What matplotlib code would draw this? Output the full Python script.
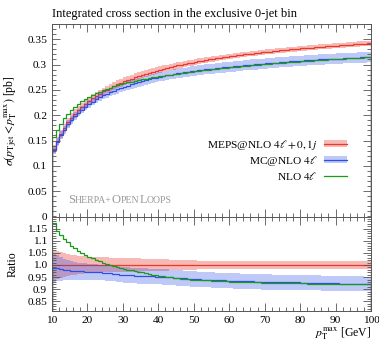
import numpy as np
import matplotlib
matplotlib.use("Agg")
import matplotlib.pyplot as plt
from matplotlib.patches import Patch
from matplotlib.lines import Line2D
from matplotlib.offsetbox import TextArea, HPacker, AnchoredOffsetbox
from matplotlib.ticker import MultipleLocator, FixedLocator, FuncFormatter

# ---------------- data ----------------
bin_edges = list(range(10, 101))  # p_T^max bins [GeV]

meps_xs = [0.1330, 0.1490, 0.1630, 0.1750, 0.1860, 0.1953, 0.2031, 0.2103, 0.2168, 0.2228,
           0.2283, 0.2334, 0.2382, 0.2426, 0.2468, 0.2507, 0.2543, 0.2578, 0.2610, 0.2641,
           0.2670, 0.2698, 0.2724, 0.2750, 0.2774, 0.2797, 0.2818, 0.2840, 0.2860, 0.2879,
           0.2898, 0.2916, 0.2933, 0.2949, 0.2965, 0.2981, 0.2996, 0.3010, 0.3024, 0.3038,
           0.3051, 0.3064, 0.3076, 0.3088, 0.3100, 0.3111, 0.3122, 0.3132, 0.3143, 0.3153,
           0.3163, 0.3172, 0.3182, 0.3191, 0.3200, 0.3208, 0.3217, 0.3225, 0.3233, 0.3241,
           0.3249, 0.3256, 0.3264, 0.3271, 0.3278, 0.3285, 0.3292, 0.3299, 0.3305, 0.3311,
           0.3318, 0.3324, 0.3330, 0.3336, 0.3342, 0.3347, 0.3353, 0.3358, 0.3364, 0.3369,
           0.3374, 0.3379, 0.3384, 0.3389, 0.3394, 0.3399, 0.3404, 0.3408, 0.3413, 0.3417]

meps_relerr = [0.060, 0.056, 0.052, 0.048, 0.045, 0.042, 0.040, 0.038, 0.036, 0.035,
               0.034, 0.033, 0.032, 0.032, 0.031, 0.031, 0.030, 0.030, 0.030, 0.029,
               0.029, 0.028, 0.028, 0.027, 0.027, 0.026, 0.026, 0.025, 0.025, 0.024,
               0.024, 0.023, 0.023, 0.022, 0.022, 0.021, 0.021, 0.020, 0.020, 0.019,
               0.019, 0.018, 0.018, 0.018, 0.017, 0.017, 0.017, 0.016, 0.016, 0.016,
               0.015, 0.015, 0.015, 0.015, 0.015, 0.015, 0.015, 0.015, 0.015, 0.015,
               0.015, 0.015, 0.015, 0.015, 0.015, 0.015, 0.015, 0.015, 0.015, 0.015,
               0.015, 0.015, 0.015, 0.015, 0.015, 0.015, 0.015, 0.015, 0.015, 0.015,
               0.015, 0.015, 0.015, 0.015, 0.015, 0.015, 0.015, 0.015, 0.015, 0.015]

mcnlo_ratio = [0.988, 0.986, 0.984, 0.981, 0.979, 0.977, 0.976, 0.975, 0.974, 0.973,
               0.972, 0.971, 0.970, 0.969, 0.968, 0.967, 0.966, 0.964, 0.962, 0.960,
               0.959, 0.958, 0.957, 0.956, 0.955, 0.955, 0.954, 0.953, 0.953, 0.952,
               0.951, 0.950, 0.950, 0.949, 0.948, 0.947, 0.946, 0.945, 0.944, 0.943,
               0.942, 0.941, 0.940, 0.940, 0.939, 0.938, 0.937, 0.937, 0.936, 0.935,
               0.935, 0.934, 0.934, 0.933, 0.933, 0.932, 0.932, 0.931, 0.931, 0.930,
               0.930, 0.930, 0.929, 0.929, 0.929, 0.929, 0.928, 0.928, 0.928, 0.928,
               0.927, 0.927, 0.927, 0.926, 0.926, 0.926, 0.925, 0.925, 0.924, 0.924,
               0.924, 0.923, 0.923, 0.923, 0.922, 0.922, 0.922, 0.922, 0.921, 0.921]

mcnlo_relerr = [0.060, 0.055, 0.050, 0.046, 0.043, 0.040, 0.038, 0.036, 0.035, 0.034,
                0.033, 0.033, 0.033, 0.033, 0.033, 0.033, 0.033, 0.033, 0.033, 0.033,
                0.033, 0.033, 0.033, 0.033, 0.033, 0.033, 0.033, 0.033, 0.033, 0.033,
                0.033, 0.033, 0.033, 0.033, 0.034, 0.034, 0.034, 0.034, 0.034, 0.034,
                0.034, 0.034, 0.034, 0.034, 0.034, 0.034, 0.034, 0.034, 0.034, 0.034,
                0.034, 0.034, 0.034, 0.034, 0.034, 0.034, 0.034, 0.034, 0.034, 0.034,
                0.034, 0.034, 0.034, 0.034, 0.033, 0.033, 0.033, 0.033, 0.033, 0.033,
                0.033, 0.033, 0.033, 0.033, 0.033, 0.033, 0.033, 0.033, 0.033, 0.033,
                0.033, 0.033, 0.033, 0.033, 0.033, 0.033, 0.033, 0.033, 0.033, 0.033]

nlo_ratio = [1.175, 1.140, 1.125, 1.108, 1.093, 1.080, 1.068, 1.058, 1.049, 1.041,
             1.034, 1.028, 1.022, 1.016, 1.010, 1.005, 1.000, 0.996, 0.992, 0.988,
             0.984, 0.981, 0.978, 0.975, 0.972, 0.969, 0.966, 0.963, 0.960, 0.958,
             0.955, 0.953, 0.951, 0.949, 0.947, 0.945, 0.944, 0.942, 0.941, 0.940,
             0.939, 0.938, 0.937, 0.936, 0.936, 0.935, 0.934, 0.933, 0.933, 0.932,
             0.931, 0.931, 0.930, 0.930, 0.929, 0.929, 0.928, 0.928, 0.928, 0.927,
             0.927, 0.927, 0.926, 0.926, 0.926, 0.925, 0.925, 0.925, 0.924, 0.924,
             0.924, 0.924, 0.923, 0.923, 0.923, 0.923, 0.922, 0.922, 0.922, 0.922,
             0.921, 0.921, 0.921, 0.921, 0.920, 0.920, 0.920, 0.920, 0.920, 0.920]

labels = [r"MEPS@NLO $4\ell+0,1j$", r"MC@NLO $4\ell$", r"NLO $4\ell$"]
title = "Integrated cross section in the exclusive 0-jet bin"
main_yticks = [0, 0.05, 0.1, 0.15, 0.2, 0.25, 0.3, 0.35]
ratio_yticks = [0.85, 0.9, 0.95, 1.0, 1.05, 1.1, 1.15]
xticks = [10, 20, 30, 40, 50, 60, 70, 80, 90, 100]

# ---------------- style ----------------
plt.rcParams['font.family'] = ['Liberation Serif', 'DejaVu Serif']
plt.rcParams['mathtext.fontset'] = 'stix'

RED = '#e8392b'
BLUE = '#2e4fe6'
GREEN = '#1a9a1a'
FRAME = '#555555'
FS = 8.2

W, H = 379, 342
fig = plt.figure(figsize=(W / 100, H / 100), dpi=100)
x0, x1 = 52, 371
y_top, y_mid, y_bot = 24, 216.5, 311
ax = fig.add_axes([x0 / W, 1 - y_mid / H, (x1 - x0) / W, (y_mid - y_top) / H])
rax = fig.add_axes([x0 / W, 1 - y_bot / H, (x1 - x0) / W, (y_bot - y_mid) / H], sharex=ax)

edges = np.array(bin_edges, dtype=float)
meps = np.array(meps_xs)
meps_err = np.array(meps_relerr)
mc_r = np.array(mcnlo_ratio)
mc_err = np.array(mcnlo_relerr)
nlo_r = np.array(nlo_ratio)

mcnlo = mc_r * meps
nlo = nlo_r * meps

# main panel
ax.stairs(meps * (1 + meps_err), edges, baseline=meps * (1 - meps_err), fill=True,
          color=RED, alpha=0.35, lw=0)
ax.stairs(meps, edges, color=RED, lw=0.9)
ax.stairs(mcnlo * (1 + mc_err), edges, baseline=mcnlo * (1 - mc_err), fill=True,
          color=BLUE, alpha=0.3, lw=0)
ax.stairs(mcnlo, edges, color=BLUE, lw=0.9)
ax.stairs(nlo, edges, color=GREEN, lw=0.9)

# ratio panel
rax.stairs(1 + meps_err, edges, baseline=1 - meps_err, fill=True, color=RED, alpha=0.35, lw=0)
rax.stairs(meps / meps, edges, color=RED, lw=0.9)
rax.stairs(mc_r * (1 + mc_err), edges, baseline=mc_r * (1 - mc_err), fill=True,
           color=BLUE, alpha=0.3, lw=0)
rax.stairs(mc_r, edges, color=BLUE, lw=0.9)
rax.stairs(nlo_r, edges, color=GREEN, lw=0.9)

ax.set_xlim(10, 100)
ax.set_ylim(0, 0.38)
rax.set_ylim(0.81, 1.2)

for a in (ax, rax):
    a.xaxis.set_major_locator(FixedLocator(xticks))
    a.xaxis.set_minor_locator(MultipleLocator(2))
    a.tick_params(which='both', direction='in', top=True, right=True, colors=FRAME,
                  labelcolor='black', labelsize=FS, width=0.6)
    a.tick_params(which='major', length=6)
    a.tick_params(which='minor', length=3)
    for s in a.spines.values():
        s.set_color(FRAME)
        s.set_linewidth(0.7)

ax.tick_params(labelbottom=False)
ax.yaxis.set_major_locator(FixedLocator(main_yticks))
ax.yaxis.set_minor_locator(MultipleLocator(0.01))
ax.yaxis.set_major_formatter(FuncFormatter(lambda v, p: '%g' % round(v, 3)))

rax.yaxis.set_major_locator(FixedLocator(ratio_yticks))
rax.yaxis.set_minor_locator(MultipleLocator(0.01))
rax.yaxis.set_major_formatter(FuncFormatter(lambda v, p: '1.0' if abs(v - 1) < 1e-9 else '%g' % round(v, 3)))

ax.set_ylabel(r"$\sigma(p_{\mathrm{T\,jet}} < p_{\mathrm{T}}^{\mathrm{max}})$ [pb]", fontsize=8.5)
rax.set_ylabel("Ratio", fontsize=8.5)
ax.yaxis.set_label_coords(-0.105, 0.5)
rax.yaxis.set_label_coords(-0.105, 0.5)
rax.set_xlabel(r"$p_{\mathrm{T}}^{\mathrm{max}}$ [GeV]", fontsize=8.5, loc='right', labelpad=0)

ax.set_title(title, fontsize=9, loc='left', pad=5)

handles = [(Patch(facecolor=RED, alpha=0.35, lw=0), Line2D([], [], color=RED, lw=0.9)),
           (Patch(facecolor=BLUE, alpha=0.3, lw=0), Line2D([], [], color=BLUE, lw=0.9)),
           Line2D([], [], color=GREEN, lw=0.9)]
ax.legend(handles, labels, loc='upper right', bbox_to_anchor=(0.925, 0.41), frameon=False,
          markerfirst=False, alignment='right', fontsize=FS, borderpad=0, borderaxespad=0,
          handlelength=2.0, handleheight=0.6, labelspacing=0.2, handletextpad=0.6)

# watermark in small caps
big, small = 9, 7
parts = [("S", big), ("HERPA+", small), ("O", big), ("PEN", small), ("L", big), ("OOPS", small)]
boxes = [TextArea(t, textprops=dict(fontsize=s, color='#999999')) for t, s in parts]
pack = HPacker(children=boxes, align='baseline', pad=0, sep=0)
ab = AnchoredOffsetbox(loc='lower left', child=pack, pad=0, borderpad=0, frameon=False,
                       bbox_to_anchor=(0.05, 0.055), bbox_transform=ax.transAxes)
ax.add_artist(ab)

fig.savefig("out.png", dpi=100)
